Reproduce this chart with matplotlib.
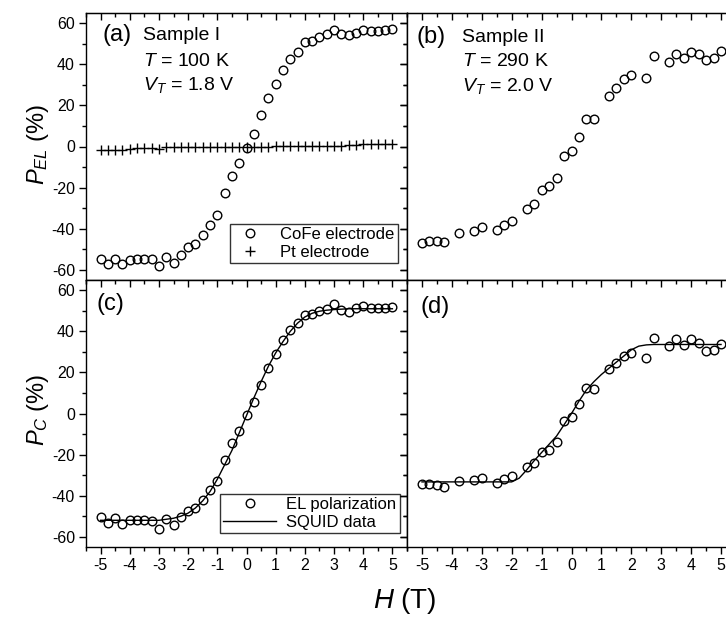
import numpy as np
import matplotlib
matplotlib.use("Agg")
import matplotlib.pyplot as plt
from matplotlib.ticker import MultipleLocator

plt.rcParams['font.family'] = ['Liberation Sans', 'DejaVu Sans']
plt.rcParams['mathtext.fontset'] = 'custom'
plt.rcParams['mathtext.rm'] = 'Liberation Sans'
plt.rcParams['mathtext.it'] = 'Liberation Sans:italic'
plt.rcParams['mathtext.bf'] = 'Liberation Sans:bold'
plt.rcParams['axes.unicode_minus'] = False

# ---------------- data ----------------
h_full = np.arange(-5, 5.001, 0.25)  # field grid for Sample I (41 points)

cofe_a = [-54.7, -57.4, -54.7, -57.4, -55.2, -55.0, -55.0, -55.0, -58.2, -54.0,
          -56.6, -52.6, -49.0, -47.4, -42.9, -38.0, -33.2, -22.8, -14.6, -8.1,
          -0.5, 6.3, 15.2, 23.8, 30.6, 37.4, 42.4, 46.1, 50.7, 51.6,
          53.4, 54.6, 56.5, 54.6, 54.1, 55.3, 56.5, 56.2, 56.2, 56.5, 57.3]

pt_a = [-1.8, -1.8, -1.6, -1.6, -1.2, -0.8, -0.8, -0.8, -1.2, -0.4,
        -0.3, -0.3, -0.3, -0.3, -0.2, -0.2, -0.2, -0.2, -0.1, -0.1,
        0.0, 0.0, 0.0, 0.0, 0.1, 0.2, 0.3, 0.3, 0.3, 0.3,
        0.3, 0.4, 0.4, 0.4, 0.5, 0.9, 1.0, 1.0, 1.1, 1.2, 1.2]

el_c = [-50.4, -53.3, -50.9, -53.7, -52.0, -52.0, -52.0, -52.5, -56.1, -51.4,
        -54.5, -50.4, -47.6, -46.0, -42.0, -37.1, -32.7, -22.4, -14.3, -8.3,
        -0.8, 5.5, 14.1, 22.0, 29.1, 35.8, 40.5, 43.9, 47.8, 48.3,
        49.9, 50.7, 53.5, 50.4, 49.6, 51.6, 52.3, 51.2, 51.2, 51.6, 51.9]

squid_c = [-52.0, -52.0, -52.0, -52.0, -52.0, -52.0, -52.0, -52.0, -52.0, -51.5,
           -51.0, -50.0, -48.5, -46.0, -42.5, -38.0, -32.0, -25.0, -18.0, -9.5,
           -1.0, 7.5, 15.5, 23.0, 29.5, 35.0, 40.0, 44.0, 47.0, 48.8,
           49.8, 50.3, 50.6, 50.8, 51.0, 51.0, 51.0, 51.0, 51.0, 51.0, 51.0]

h_ii = [-5, -4.75, -4.5, -4.25, -3.75, -3.25, -3, -2.5, -2.25, -2,
        -1.5, -1.25, -1, -0.75, -0.5, -0.25, 0, 0.25, 0.5, 0.75,
        1.25, 1.5, 1.75, 2, 2.5, 2.75, 3.25, 3.5, 3.75, 4,
        4.25, 4.5, 4.75, 5]

el_b = [-47.1, -46.1, -46.1, -46.7, -42.2, -40.9, -39.3, -40.6, -38.2, -36.1,
        -30.4, -28.0, -21.2, -19.2, -15.5, -4.7, -2.1, 4.7, 13.3, 13.3,
        24.6, 28.6, 32.7, 34.8, 33.5, 44.0, 41.3, 45.1, 42.9, 46.1,
        45.1, 41.9, 42.9, 46.4]

el_d = [-34.1, -34.1, -35.0, -35.9, -32.7, -32.5, -31.5, -33.8, -31.9, -30.6,
        -26.0, -24.1, -18.9, -17.6, -14.0, -3.7, -1.8, 4.4, 12.5, 12.0,
        21.5, 24.7, 28.0, 29.6, 27.2, 36.9, 32.8, 36.4, 33.2, 36.1,
        34.5, 30.4, 30.7, 33.7]

squid_d = [-33.3, -33.3, -33.3, -33.3, -33.3, -33.3, -33.3, -33.3, -33.3, -33.3,
           -33.3, -33.3, -33.3, -31.5, -27.5, -23.0, -19.0, -15.0, -11.0, -5.5,
           0.0, 6.0, 11.5, 15.5, 19.0, 22.0, 25.0, 28.0, 31.0, 32.8,
           33.4, 33.6, 33.6, 33.6, 33.6, 33.6, 33.6, 33.6, 33.6, 33.6, 33.6]

xticks = [-5, -4, -3, -2, -1, 0, 1, 2, 3, 4, 5]
yticks = [-60, -40, -20, 0, 20, 40, 60]

# ---------------- figure ----------------
W, H = 726, 620
fig = plt.figure(figsize=(W / 100, H / 100), dpi=100)

def frac(x0, y0, x1, y1):
    return [x0 / W, 1 - y1 / H, (x1 - x0) / W, (y1 - y0) / H]

ax_a = fig.add_axes(frac(86, 13, 407, 280))
ax_b = fig.add_axes(frac(407, 13, 736, 280))
ax_c = fig.add_axes(frac(86, 280, 407, 547))
ax_d = fig.add_axes(frac(407, 280, 736, 547))

mk = dict(marker='o', ms=6.2, mfc='none', mec='black', mew=1.0, ls='none')

ax_a.plot(h_full, cofe_a, label='CoFe electrode', **mk)
ax_a.plot(h_full, pt_a, marker='+', ms=7, mew=1.0, color='black', ls='none',
          label='Pt electrode')
ax_b.plot(h_ii, el_b, **mk)
ax_c.plot(h_full, el_c, label='EL polarization', **mk)
ax_c.plot(h_full, squid_c, color='black', lw=1.0, label='SQUID data')
ax_d.plot(h_ii, el_d, **mk)
ax_d.plot(h_full, squid_d, color='black', lw=1.0)

for ax, left_lab, bot_lab in [(ax_a, True, False), (ax_b, False, False),
                              (ax_c, True, True), (ax_d, False, True)]:
    ax.set_xlim(-5.5, 5.5)
    ax.set_ylim(-65, 65)
    ax.set_xticks(xticks)
    ax.set_yticks(yticks)
    ax.xaxis.set_minor_locator(MultipleLocator(0.5))
    ax.yaxis.set_minor_locator(MultipleLocator(10))
    ax.tick_params(which='major', direction='out', length=5, width=1,
                   labelsize=11.5, pad=3, top=False, right=False,
                   labelbottom=bot_lab, labelleft=left_lab)
    ax.tick_params(which='minor', direction='out', length=3, width=1,
                   top=False, right=False)
    for s in ax.spines.values():
        s.set_linewidth(1.0)
    sx = ax.secondary_xaxis('top')
    sx.set_xticks(xticks)
    sx.xaxis.set_minor_locator(MultipleLocator(0.5))
    sx.tick_params(which='major', direction='in', length=5, width=1, labeltop=False)
    sx.tick_params(which='minor', direction='in', length=3, width=1)
    sy = ax.secondary_yaxis('right')
    sy.set_yticks(yticks)
    sy.yaxis.set_minor_locator(MultipleLocator(10))
    sy.tick_params(which='major', direction='in', length=5, width=1, labelright=False)
    sy.tick_params(which='minor', direction='in', length=3, width=1)

# legends
leg_a = ax_a.legend(loc='lower right', bbox_to_anchor=(0.972, 0.064),
                    fontsize=12, frameon=True, fancybox=False, edgecolor='black',
                    borderaxespad=0, borderpad=0.2, handletextpad=0.8,
                    labelspacing=0.15, handlelength=2.0)
leg_a.get_frame().set_linewidth(1.0)
leg_c = ax_c.legend(loc='lower right', bbox_to_anchor=(0.978, 0.052),
                    fontsize=12, frameon=True, fancybox=False, edgecolor='black',
                    borderaxespad=0, borderpad=0.2, handletextpad=0.6,
                    labelspacing=0.15, handlelength=3.2)
leg_c.get_frame().set_linewidth(1.0)

# panel annotations
fig.text(102 / W, 1 - 35 / H, '(a)', fontsize=17, va='center', ha='left')
fig.text(143 / W, 1 - 35 / H, 'Sample I', fontsize=14, va='center', ha='left')
fig.text(143 / W, 1 - 61 / H, r'$T$ = 100 K', fontsize=14, va='center', ha='left')
fig.text(143 / W, 1 - 85 / H, r'$V_T$ = 1.8 V', fontsize=14, va='center', ha='left')

fig.text(417 / W, 1 - 37 / H, '(b)', fontsize=17, va='center', ha='left')
fig.text(462 / W, 1 - 37 / H, 'Sample II', fontsize=14, va='center', ha='left')
fig.text(462 / W, 1 - 62 / H, r'$T$ = 290 K', fontsize=14, va='center', ha='left')
fig.text(462 / W, 1 - 86 / H, r'$V_T$ = 2.0 V', fontsize=14, va='center', ha='left')

fig.text(97 / W, 1 - 304 / H, '(c)', fontsize=17, va='center', ha='left')
fig.text(421 / W, 1 - 307 / H, '(d)', fontsize=17, va='center', ha='left')

fig.text(38 / W, 1 - 145 / H, r'$P_{EL}$ (%)', fontsize=17, rotation=90,
         va='center', ha='center')
fig.text(38 / W, 1 - 410 / H, r'$P_{C}$ (%)', fontsize=17, rotation=90,
         va='center', ha='center')
fig.text(405 / W, 1 - 601 / H, r'$H$ (T)', fontsize=20, va='center', ha='center')

fig.savefig('out.png', dpi=100)
